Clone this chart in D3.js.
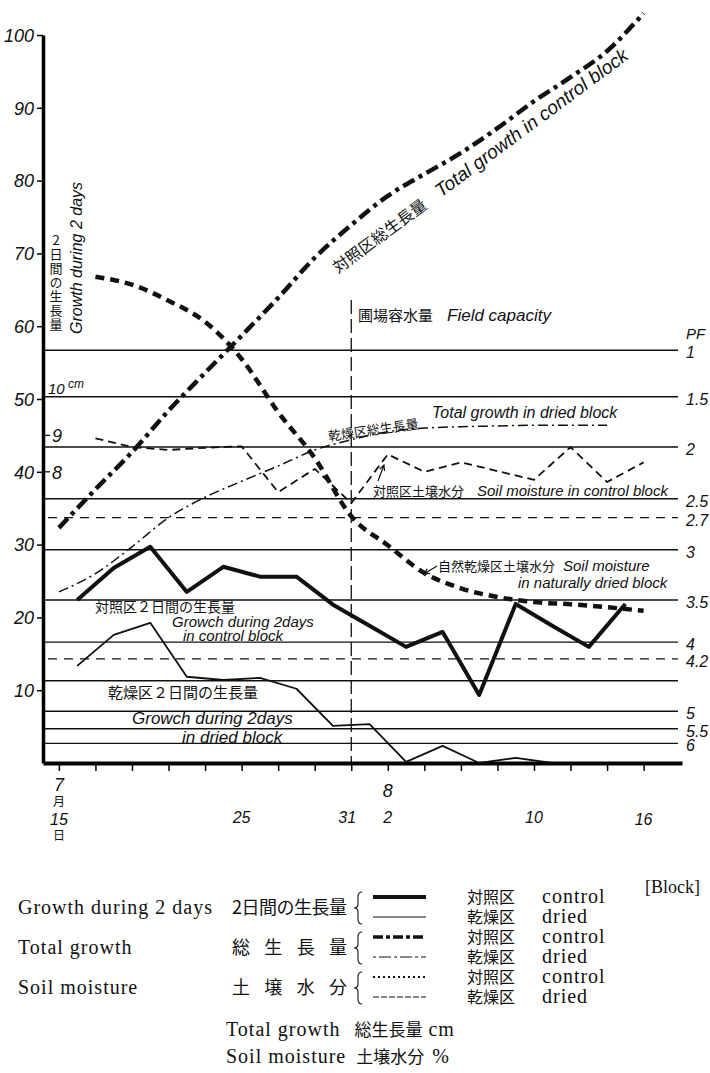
<!DOCTYPE html>
<html>
<head>
<meta charset="utf-8">
<script src="https://cdn.jsdelivr.net/npm/d3@7"></script>
<style>
body { margin: 0; background: #fff; }
text { fill: #111; }
.hand { font-family: "Liberation Sans", "DejaVu Sans", sans-serif; font-style: italic; }
.jp { font-family: "Noto Sans CJK JP", sans-serif; }
.serif { font-family: "Liberation Serif", "DejaVu Serif", serif; letter-spacing: 1px; }
</style>
</head>
<body>
<div id="vis"></div>
<script>
// days are counted from July 15
const tickDays = [0, 2, 4, 6, 8, 10, 12, 14, 16, 18, 20, 22, 24, 26, 28, 30, 32]
const yTicks = [10, 20, 30, 40, 50, 60, 70, 80, 90, 100]
const cmTicks = [8, 9, 10]

// growth during 2 days (cm)
const growthDays = [1, 3, 5, 7, 9, 11, 13, 15, 17, 19, 21, 23, 25, 27, 29, 31]
const growthControl = [4.48, 5.36, 5.94, 4.70, 5.39, 5.12, 5.12, 4.35, 3.77, 3.19, 3.60, 1.87, 4.37, 3.77, 3.19, 4.37]
const growthDriedDays = [1, 3, 5, 7, 9, 11, 13, 15, 17, 19, 21, 23, 25, 27]
const growthDried = [2.67, 3.52, 3.85, 2.37, 2.28, 2.34, 2.04, 1.02, 1.07, 0.03, 0.47, 0.0, 0.14, 0.0]

// total growth (cm)
const totalDays = [0, 2, 4, 6, 8, 10, 12, 14, 16, 18, 20, 22, 24, 26, 28, 30, 32]
const totalControl = [32.3, 37.6, 42.7, 48.4, 53.6, 58.7, 63.9, 69.4, 73.9, 77.9, 80.9, 83.8, 87.2, 90.9, 94.2, 97.8, 103.0]
const totalDriedDays = [0, 2, 4, 6, 8, 10, 12, 14, 16, 18, 20, 22, 24, 26, 28, 30]
const totalDried = [23.5, 26.0, 29.7, 33.7, 36.5, 38.7, 40.8, 43.0, 44.4, 45.5, 46.0, 46.2, 46.3, 46.4, 46.4, 46.4]

// soil moisture (%)
const soilDays = [2, 4, 6, 8, 10, 12, 14, 16, 18, 20, 22, 24, 26, 28, 30, 32]
const soilControl = [44.6, 43.4, 43.0, 43.3, 43.5, 37.2, 40.4, 35.7, 42.4, 40.0, 41.3, 40.1, 38.9, 43.4, 38.6, 41.3]
const soilDried = [66.8, 65.7, 63.5, 60.6, 55.5, 48.2, 41.9, 33.9, 29.9, 26.1, 24.0, 22.8, 22.1, 21.8, 21.4, 20.9]

// pF reference lines, as soil moisture %
const pfLabels = ['1', '1.5', '2', '2.5', '2.7', '3', '3.5', '4', '4.2', '', '5', '5.5', '6']
const pfMoisture = [56.7, 50.3, 43.4, 36.3, 33.7, 29.3, 22.4, 16.6, 14.3, 11.3, 7.1, 4.7, 2.7]
const pfDashed = ['2.7', '4.2']

const fieldCapacityDay = 16

const svg = d3.select('#vis')
    .append('svg')
    .attr('width', 710)
    .attr('height', 1073)

const xScale = d3.scaleLinear().domain([-0.87, 34.1]).range([43, 682])
const yScale = d3.scaleLinear().domain([0, 100]).range([763, 35])
const cmScale = d3.scaleLinear().domain([0, 20]).range([763, 35])
const plotRight = 678

// pF lines
pfMoisture.forEach((m, i) => {
    const dashed = pfDashed.includes(pfLabels[i])
    svg.append('line')
        .attr('x1', dashed ? 48 : 43).attr('x2', plotRight)
        .attr('y1', yScale(m)).attr('y2', yScale(m))
        .attr('stroke', '#111')
        .attr('stroke-width', 1.4)
        .attr('stroke-dasharray', dashed ? '9,7' : null)
    if (pfLabels[i]) {
        svg.append('text')
            .attr('class', 'hand')
            .attr('x', 686)
            .attr('y', yScale(m) + 8)
            .style('font-size', '16px')
            .text(pfLabels[i])
    }
})
svg.append('text').attr('class', 'hand')
    .attr('x', 686).attr('y', 339)
    .style('font-size', '15px')
    .text('PF')

// field capacity
svg.append('line')
    .attr('x1', xScale(fieldCapacityDay)).attr('x2', xScale(fieldCapacityDay))
    .attr('y1', 300).attr('y2', 763)
    .attr('stroke', '#111').attr('stroke-width', 1.3)
    .attr('stroke-dasharray', '14,5')
const fc = svg.append('text').attr('x', 358).attr('y', 321)
fc.append('tspan').attr('class', 'jp').style('font-size', '15px').text('圃場容水量')
fc.append('tspan').attr('class', 'hand').attr('dx', 14).style('font-size', '17px').text('Field capacity')

// axes
const yAxis = svg.append('g')
    .attr('transform', 'translate(43,0)')
    .call(d3.axisLeft(yScale).tickValues(yTicks).tickSize(6).tickSizeOuter(0))
yAxis.select('.domain').attr('stroke-width', 3.5)
yAxis.selectAll('.tick line').attr('stroke-width', 1.5)
yAxis.selectAll('.tick text')
    .attr('class', 'hand')
    .style('font-size', '18px')
    .attr('dy', '0.35em')

const xAxis = svg.append('g')
    .attr('transform', 'translate(0,763)')
    .call(d3.axisBottom(xScale).tickValues(tickDays).tickSize(8).tickSizeOuter(0).tickFormat(''))
xAxis.select('.domain').attr('stroke-width', 4)
xAxis.selectAll('.tick line').attr('stroke-width', 1.5)

// cm ticks for 2-day growth
cmTicks.forEach(c => {
    if (c < 10) {
        svg.append('line')
            .attr('x1', 45).attr('x2', 50)
            .attr('y1', cmScale(c)).attr('y2', cmScale(c))
            .attr('stroke', '#111').attr('stroke-width', 1.3)
        svg.append('text').attr('class', 'hand')
            .attr('x', 52).attr('y', cmScale(c) + 7)
            .style('font-size', '18px').text(c)
    } else {
        const t = svg.append('text').attr('class', 'hand')
            .attr('x', 48).attr('y', cmScale(c) - 5)
            .style('font-size', '15px')
        t.append('tspan').text(c)
        t.append('tspan').attr('dy', -6).style('font-size', '12px').text(' cm')
    }
})

// date labels, one text per tick
const dateLabels = [
    {day: 0, lines: [['7', 791, 'hand', 18], ['月', 806, 'jp', 12], ['15', 825, 'hand', 16], ['日', 840, 'jp', 12]]},
    {day: 10, lines: [['25', 823, 'hand', 16]]},
    {day: 16, lines: [['31', 823, 'hand', 16]]},
    {day: 18, lines: [['8', 797, 'hand', 18], ['2', 823, 'hand', 16]]},
    {day: 26, lines: [['10', 823, 'hand', 16]]},
    {day: 32, lines: [['16', 825, 'hand', 16]]}
]
dateLabels.forEach(d => {
    const x = xScale(d.day) - (d.day === 16 ? 4 : 0)
    const t = svg.append('text').attr('text-anchor', 'middle')
    d.lines.forEach(l => {
        t.append('tspan')
            .attr('class', l[2])
            .attr('x', x)
            .attr('y', l[1])
            .style('font-size', l[3] + 'px')
            .text(l[0])
    })
})

// series
const line = d3.line().x(d => xScale(d[0])).y(d => yScale(d[1]))
const smooth = d3.line().x(d => xScale(d[0])).y(d => yScale(d[1])).curve(d3.curveMonotoneX)
const cmLine = d3.line().x(d => xScale(d[0])).y(d => cmScale(d[1]))

function drawSeries(gen, xs, ys, width, dash) {
    svg.append('path')
        .datum(xs.map((x, i) => [x, ys[i]]))
        .attr('d', gen)
        .attr('fill', 'none')
        .attr('stroke', '#111')
        .attr('stroke-width', width)
        .attr('stroke-linejoin', 'round')
        .attr('stroke-dasharray', dash)
}

drawSeries(smooth, totalDays, totalControl, 4.5, '13,5,4,5')
drawSeries(smooth, totalDriedDays, totalDried, 1.5, '10,4,2,4')
drawSeries(line, soilDays, soilControl, 1.8, '8,5')
drawSeries(smooth, soilDays, soilDried, 4.5, '9,6')
drawSeries(cmLine, growthDays, growthControl, 4, null)
drawSeries(cmLine, growthDriedDays, growthDried, 1.8, null)

// annotations: each is one text, lines are tspans [x, y, font class, size, string]
function label(parts, rot) {
    const t = svg.append('text')
    if (rot) t.attr('transform', `rotate(${rot},${parts[0][0]},${parts[0][1]})`)
    parts.forEach(p => {
        t.append('tspan')
            .attr('class', p[2])
            .attr('x', p[0]).attr('y', p[1])
            .style('font-size', p[3] + 'px')
            .text(p[4])
    })
}
const rotCtrl = svg.append('text').attr('transform', 'translate(338,274) rotate(-36.5)')
rotCtrl.append('tspan').attr('class', 'jp').style('font-size', '16px').text('対照区総生長量')
rotCtrl.append('tspan').attr('class', 'hand').attr('dx', 16).style('font-size', '19px').text('Total growth in control block')

label([[329, 441, 'jp', 13, '乾燥区総生長量']], -8)
label([[432, 418, 'hand', 16, 'Total growth in dried block']])
label([[373, 496, 'jp', 13, '対照区土壌水分'], [477, 496, 'hand', 15, 'Soil moisture in control block']])
label([[438, 571, 'jp', 13, '自然乾燥区土壌水分'], [563, 571, 'hand', 15, 'Soil moisture'],
    [518, 588, 'hand', 15, 'in naturally dried block']])
label([[95, 612, 'jp', 14, '対照区２日間の生長量'], [172, 627, 'hand', 15, 'Growch during 2days'],
    [183, 641, 'hand', 15, 'in control block']])
label([[108, 698, 'jp', 15, '乾燥区２日間の生長量'], [132, 724, 'hand', 17, 'Growch during  2days'],
    [182, 743, 'hand', 17, 'in dried block']])

// small arrows pointing to soil moisture curves
function arrow(x1, y1, x2, y2) {
    const a = Math.atan2(y2 - y1, x2 - x1)
    svg.append('path')
        .attr('d', `M${x1},${y1}L${x2},${y2}` +
            `M${x2 - 6 * Math.cos(a - 0.45)},${y2 - 6 * Math.sin(a - 0.45)}L${x2},${y2}` +
            `L${x2 - 6 * Math.cos(a + 0.45)},${y2 - 6 * Math.sin(a + 0.45)}`)
        .attr('fill', 'none').attr('stroke', '#111').attr('stroke-width', 1.2)
}
arrow(378, 481, 384, 465)
arrow(437, 566, 424, 574)

// vertical y title
svg.append('text').attr('class', 'jp')
    .attr('x', 56).attr('y', 234)
    .style('writing-mode', 'vertical-rl')
    .style('text-orientation', 'upright')
    .style('font-size', '13px')
    .style('letter-spacing', '1px')
    .text('2日間の生長量')
svg.append('text').attr('class', 'hand')
    .attr('transform', 'translate(82,258) rotate(-90)')
    .attr('text-anchor', 'middle')
    .style('font-size', '16px')
    .text('Growth during 2 days')

// legend
const legendRows = [
    {en: 'Growth during 2 days', jp: '2日間の生長量', y: 907},
    {en: 'Total growth', jp: '総　生　長　量', y: 947},
    {en: 'Soil moisture', jp: '土　壌　水　分', y: 987}
]
const legendStyles = [
    {w: 4, dash: null}, {w: 1.2, dash: null},
    {w: 3.5, dash: '10,3,4,3'}, {w: 1.2, dash: '3,3,12,3'},
    {w: 1.8, dash: '2,3'}, {w: 1.2, dash: '6,2'}
]
const legendBlocks = ['対照区', '乾燥区']
const legendBlocksEn = ['control', 'dried']

svg.append('text')
    .attr('x', 700).attr('y', 893)
    .attr('text-anchor', 'end')
    .style('font-family', '"Liberation Serif", serif')
    .style('font-size', '18px')
    .text('[Block]')

legendRows.forEach((r, i) => {
    svg.append('text').attr('class', 'serif')
        .attr('x', 18).attr('y', r.y + 7)
        .style('font-size', '20px')
        .text(r.en)
    svg.append('text').attr('class', 'jp')
        .attr('x', 232).attr('y', r.y + 7)
        .attr('textLength', 115)
        .style('font-size', '18px')
        .text(r.jp)
    // brace
    const bx = 356, y0 = r.y - 15, y1 = r.y + 17, ym = r.y + 1
    svg.append('path')
        .attr('d', `M${bx + 6},${y0}Q${bx + 2},${y0} ${bx + 2},${y0 + 5}L${bx + 2},${ym - 4}Q${bx + 2},${ym} ${bx - 2},${ym}` +
            `Q${bx + 2},${ym} ${bx + 2},${ym + 4}L${bx + 2},${y1 - 5}Q${bx + 2},${y1} ${bx + 6},${y1}`)
        .attr('fill', 'none').attr('stroke', '#111').attr('stroke-width', 1.1)
    const jpText = svg.append('text').attr('class', 'jp').style('font-size', '16px')
    const enText = svg.append('text').attr('class', 'serif').style('font-size', '20px')
    legendBlocks.forEach((b, j) => {
        const yy = r.y - 10 + j * 20
        const s = legendStyles[i * 2 + j]
        svg.append('line')
            .attr('x1', 373).attr('x2', 426)
            .attr('y1', yy).attr('y2', yy)
            .attr('stroke', '#111')
            .attr('stroke-width', s.w)
            .attr('stroke-dasharray', s.dash)
        jpText.append('tspan').attr('x', 467).attr('y', yy + 6).text(b)
        enText.append('tspan').attr('x', 542).attr('y', yy + 6).text(legendBlocksEn[j])
    })
})

const unit1 = svg.append('text').attr('x', 226).attr('y', 1036)
unit1.append('tspan').attr('class', 'serif').style('font-size', '20px').text('Total growth')
unit1.append('tspan').attr('class', 'jp').attr('dx', 14).style('font-size', '17px').text('総生長量')
unit1.append('tspan').attr('class', 'serif').attr('dx', 6).style('font-size', '20px').text('cm')
const unit2 = svg.append('text').attr('x', 226).attr('y', 1063)
unit2.append('tspan').attr('class', 'serif').style('font-size', '20px').text('Soil moisture')
unit2.append('tspan').attr('class', 'jp').attr('dx', 10).style('font-size', '17px').text('土壌水分')
unit2.append('tspan').attr('class', 'serif').attr('dx', 8).style('font-size', '20px').text('%')
</script>
</body>
</html>
